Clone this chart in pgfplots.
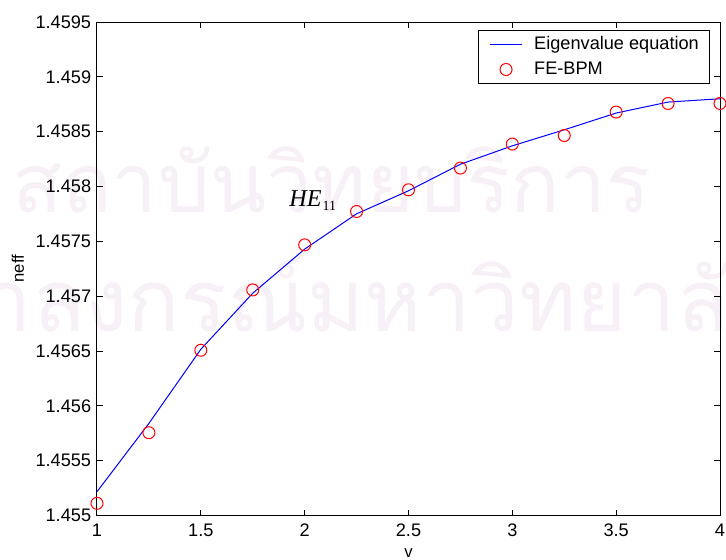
\documentclass[border=0pt]{standalone}
\usepackage{graphicx}
\usepackage{fontspec}
\setmainfont{Liberation Sans}
\newfontfamily\timesfont{Liberation Serif}
\newfontfamily\thaifont[Script=Thai]{Loma}
\usepackage{pgfplots}
\pgfplotsset{compat=1.18}

\definecolor{wmark}{RGB}{247,240,247}
\definecolor{mblue}{RGB}{0,0,255}
\definecolor{mred}{RGB}{255,0,0}

\pgfplotsset{
  lineleg/.style={legend image code/.code={\draw[##1] (0pt,0pt) -- (19.6pt,0pt);}},
  markleg/.style={legend image code/.code={\draw[mark repeat=2,mark phase=2,##1]
    plot coordinates {(0pt,0pt) (9.8pt,0pt) (19.6pt,0pt)};}},
}

% eigenvalue equation (solid line)
\pgfplotstableread{
v neff
1.00 1.455217
1.25 1.455840
1.50 1.456516
1.75 1.457027
2.00 1.457429
2.25 1.457751
2.50 1.457961
2.75 1.458203
3.00 1.458371
3.25 1.458517
3.50 1.458670
3.75 1.458770
4.00 1.458800
}\eigtab

% FE-BPM (circles)
\pgfplotstableread{
v neff
1.00 1.455111
1.25 1.455755
1.50 1.456507
1.75 1.457057
2.00 1.457468
2.25 1.457772
2.50 1.457970
2.75 1.458168
3.00 1.458387
3.25 1.458465
3.50 1.458679
3.75 1.458757
4.00 1.458757
}\bpmtab

\begin{document}
\begin{tikzpicture}
% faint watermark behind the figure
\begin{scope}
\clip (-58.2pt,-26.1pt) rectangle (377.4pt,309.3pt);
\node[anchor=base west, inner sep=0pt, text=wmark] at (-51pt,181.5pt)
  {\resizebox{382.8pt}{!}{\thaifont สถาบันวิทยบริการ}};
\node[anchor=base west, inner sep=0pt, text=wmark] at (-134.4pt,110.3pt)
  {\resizebox{544pt}{!}{\thaifont จุฬาลงกรณ์มหาวิทยาลัย}};
\end{scope}

\begin{axis}[
    at={(0pt,0pt)}, anchor=south west,
    scale only axis,
    width=373.8pt, height=296.1pt,
    xmin=1, xmax=4, ymin=1.455, ymax=1.4595,
    xtick={1,1.5,2,2.5,3,3.5,4},
    xticklabels={1,1.5,2,2.5,3,3.5,4},
    ytick={1.455,1.4555,1.456,1.4565,1.457,1.4575,1.458,1.4585,1.459,1.4595},
    yticklabels={1.455,1.4555,1.456,1.4565,1.457,1.4575,1.458,1.4585,1.459,1.4595},
    scaled y ticks=false,
    tick align=inside,
    major tick length=3.6pt,
    axis line style={line width=0.6pt, black},
    tick style={line width=0.6pt, black},
    every tick label/.append style={font=\fontsize{10.9}{13}\selectfont},
    /pgf/number format/assume math mode=true,
    xticklabel style={yshift=-1.5pt},
    xlabel={v}, ylabel={neff},
    label style={font=\fontsize{10.9}{13}\selectfont},
    every axis x label/.style={at={(axis description cs:0.5,-0.076)}, anchor=center},
    every axis y label/.style={at={(axis description cs:-0.1268,0.5)}, rotate=90, anchor=center},
    clip=false,
    legend cell align=left,
    legend style={at={(0.984,0.984)}, anchor=north east,
      draw=black, line width=0.6pt, fill=white,
      inner xsep=6.4pt, inner ysep=3.2pt,
      column sep=6.8pt, row sep=4.5pt,
      font=\fontsize{10.9}{13}\selectfont,
      nodes={inner sep=0pt, text height=8pt, text depth=2.5pt}},
]
\addplot[mblue, line width=0.6pt, lineleg]
  table[x=v, y=neff] {\eigtab};
\addlegendentry{Eigenvalue equation}
\addplot[only marks, mark=o, mark size=3.6pt,
  mark options={mred, line width=0.6pt}, markleg]
  table[x=v, y=neff] {\bpmtab};
\addlegendentry{FE-BPM}

\node[anchor=base west, inner sep=0pt] at (axis cs:1.925,1.457818)
  {\fontsize{14.5}{16}\timesfont\itshape HE\kern0.6pt\raisebox{-2.6pt}{\fontsize{8.4}{10}\timesfont\upshape 11}};
\end{axis}

\pgfresetboundingbox
\path[use as bounding box] (-58.2pt,-26.1pt) rectangle (377.4pt,309.3pt);
\end{tikzpicture}
\end{document}
